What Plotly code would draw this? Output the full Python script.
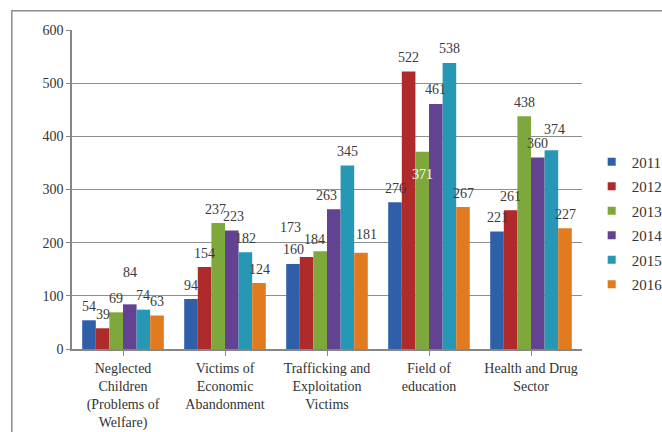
import plotly.graph_objects as go

categories = [
    "Neglected<br>Children<br>(Problems of<br>Welfare)",
    "Victims of<br>Economic<br>Abandonment",
    "Trafficking and<br>Exploitation<br>Victims",
    "Field of<br>education",
    "Health and Drug<br>Sector",
]
years = ["2011", "2012", "2013", "2014", "2015", "2016"]
v2011 = [54, 94, 160, 276, 221]
v2012 = [39, 154, 173, 522, 261]
v2013 = [69, 237, 184, 371, 438]
v2014 = [84, 223, 263, 461, 360]
v2015 = [74, 182, 345, 538, 374]
v2016 = [63, 124, 181, 267, 227]
series = [v2011, v2012, v2013, v2014, v2015, v2016]

colors = ["#2F5FA8", "#AE2A2B", "#7EA83B", "#634292", "#2797B6", "#E27A20"]

# label nudges in pixels (dx, dy) for labels the original chart moved
nudges = {
    (3, 0): (0, 18),
    (1, 2): (-16, 16),
    (2, 2): (-6, -2),
    (3, 2): (-7, 0),
    (5, 2): (5, 4),
    (4, 4): (3, 7),
    (2, 1): (-3, 0),
    (3, 1): (2, 0),
}
inside_labels = {(2, 3)}

FONT = "Liberation Serif"
fig = go.Figure()
for si, (yr, vals) in enumerate(zip(years, series)):
    fig.add_trace(go.Bar(
        name=yr, x=list(range(len(categories))), y=vals,
        marker=dict(color=colors[si], line=dict(width=0)),
        showlegend=False,
    ))
# small square legend keys
for si, yr in enumerate(years):
    fig.add_trace(go.Scatter(
        name=yr, x=[None], y=[None], mode="markers",
        marker=dict(symbol="square", size=8, color=colors[si]),
        legendgroup=yr, showlegend=True,
    ))

bargap = 0.2
nser = len(years)
annots = []
for si, vals in enumerate(series):
    for ci, v in enumerate(vals):
        xpos = ci + (si - (nser - 1) / 2) * (1 - bargap) / nser
        dx, dy = nudges.get((si, ci), (0, 0))
        inside = (si, ci) in inside_labels
        annots.append(dict(
            x=xpos, y=v, xref="x", yref="y", text=str(v), showarrow=False,
            xanchor="center", yanchor="middle",
            xshift=dx, yshift=(-23 if inside else 14 + dy),
            font=dict(family=FONT, size=14, color="white" if inside else "#3A3A3A"),
        ))

fig.update_layout(
    width=662, height=432,
    margin=dict(l=72, r=80, t=30, b=83, autoexpand=False),
    paper_bgcolor="white", plot_bgcolor="white",
    barmode="group", bargap=bargap, bargroupgap=0,
    font=dict(family=FONT, size=14, color="#333333"),
    showlegend=True,
    legend=dict(x=1.168, y=0.638, xanchor="right", yanchor="top",
                font=dict(family=FONT, size=15, color="#333333"),
                traceorder="grouped", tracegroupgap=2,
                itemwidth=30, bgcolor="rgba(0,0,0,0)"),
    annotations=annots,
    shapes=[dict(type="rect", xref="paper", yref="paper",
                 x0=-0.118, y0=-0.5, x1=1.5, y1=1.06,
                 line=dict(color="#8C8C8C", width=1.5), layer="below")],
)
fig.update_xaxes(
    tickmode="array", tickvals=list(range(len(categories))), ticktext=categories,
    range=[-0.5, len(categories) - 0.5], automargin=False,
    showline=True, linecolor="#868686", linewidth=1.5,
    ticks="outside", tickson="boundaries", ticklen=5, tickcolor="#868686",
    showgrid=False, tickfont=dict(family=FONT, size=14, color="#333333"),
)
fig.update_yaxes(
    range=[0, 600], dtick=100, automargin=False,
    showline=True, linecolor="#868686", linewidth=1.5,
    ticks="outside", ticklen=4, tickcolor="#868686",
    showgrid=True, gridcolor="#8E8E8E", gridwidth=1.2, zeroline=False,
    tickfont=dict(family=FONT, size=14, color="#333333"),
)
fig.write_html("out.html", config={"displayModeBar": False},
               post_script="document.body.style.margin='0px';")
